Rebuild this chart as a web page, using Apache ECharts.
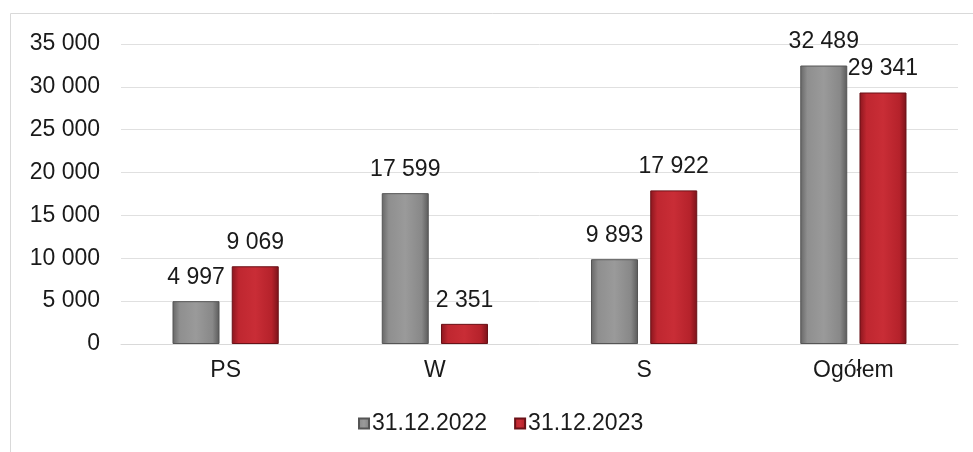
<!DOCTYPE html>
<html>
<head>
<meta charset="utf-8">
<script src="https://cdn.jsdelivr.net/npm/echarts@6/dist/echarts.min.js"></script>
<style>
html, body { margin: 0; padding: 0; background: #fff; }
#chart { width: 973px; height: 452px; }
</style>
</head>
<body>
<div id="chart"></div>
<script>
// kategorie i dane
var categories = ['PS', 'W', 'S', 'Ogółem'];
var values2022 = [4997, 17599, 9893, 32489];
var values2023 = [9069, 2351, 17922, 29341];
var seriesNames = ['31.12.2022', '31.12.2023'];

// liczby ze spacją jako separatorem tysięcy
function fmt(v) {
    return String(v).replace(/\B(?=(\d{3})+(?!\d))/g, ' ');
}

var greyFill = new echarts.graphic.LinearGradient(0, 0, 1, 0, [
    { offset: 0, color: '#666666' },
    { offset: 0.15, color: '#8f8f8f' },
    { offset: 0.5, color: '#9a9a9a' },
    { offset: 0.85, color: '#888888' },
    { offset: 1, color: '#5a5a5a' }
]);
var redFill = new echarts.graphic.LinearGradient(0, 0, 1, 0, [
    { offset: 0, color: '#8a161e' },
    { offset: 0.15, color: '#bf2730' },
    { offset: 0.5, color: '#c92d36' },
    { offset: 0.85, color: '#b5222b' },
    { offset: 1, color: '#7a131a' }
]);

var labelStyle = {
    show: true,
    position: 'top',
    distance: 12,
    color: '#1a1a1a',
    fontSize: 23,
    fontFamily: 'Liberation Sans',
    formatter: function (p) { return fmt(p.value); }
};

var myChart = echarts.init(document.getElementById('chart'));

var option = {
    animation: false,
    graphic: [{
        type: 'rect',
        shape: { x: 10.5, y: 13.5, width: 1000, height: 500 },
        style: { fill: 'none', stroke: '#d9d9d9', lineWidth: 1 },
        silent: true
    }],
    grid: { left: 121, right: 15, top: 44, bottom: 108, containLabel: false },
    legend: {
        bottom: 12,
        left: 353,
        itemWidth: 10,
        itemHeight: 10,
        itemGap: 27,
        icon: 'rect',
        textStyle: { fontSize: 23, color: '#1a1a1a', fontFamily: 'Liberation Sans', padding: [0, 0, 0, -2] },
        data: seriesNames
    },
    xAxis: {
        type: 'category',
        data: categories,
        axisLine: { show: true, lineStyle: { color: '#d9d9d9' } },
        axisTick: { show: false },
        axisLabel: { fontSize: 23, color: '#1a1a1a', fontFamily: 'Liberation Sans', margin: 15 }
    },
    yAxis: {
        type: 'value',
        min: 0,
        max: 35000,
        interval: 5000,
        axisLine: { show: false },
        axisTick: { show: false },
        splitLine: { lineStyle: { color: '#e0e0e0' } },
        axisLabel: {
            fontSize: 23, color: '#1a1a1a', fontFamily: 'Liberation Sans', margin: 21,
            formatter: function (v) { return fmt(v); }
        }
    },
    series: [{
        name: seriesNames[0],
        type: 'bar',
        data: values2022,
        barWidth: 47,
        barGap: '26%',
        itemStyle: { color: greyFill, borderColor: '#555555', borderWidth: 1 },
        label: labelStyle
    }, {
        name: seriesNames[1],
        type: 'bar',
        data: values2023,
        barWidth: 47,
        itemStyle: { color: redFill, borderColor: '#6a1117', borderWidth: 1 },
        label: labelStyle
    }]
};

myChart.setOption(option);
</script>
</body>
</html>
